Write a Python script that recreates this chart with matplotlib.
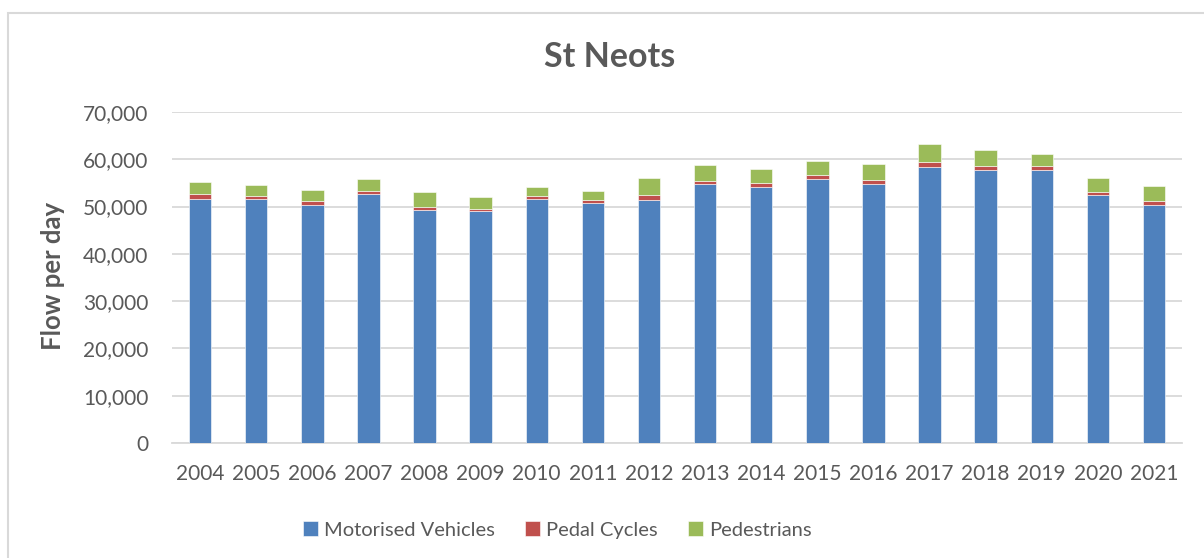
import matplotlib
matplotlib.use("Agg")
import matplotlib.pyplot as plt
import matplotlib.patches as patches
import numpy as np
from matplotlib.ticker import FuncFormatter

plt.rcParams['font.family'] = ['Lato', 'DejaVu Sans']

# Datos
years = ['2004', '2005', '2006', '2007', '2008', '2009', '2010', '2011', '2012',
         '2013', '2014', '2015', '2016', '2017', '2018', '2019', '2020', '2021']
motorised = [51600, 51600, 50400, 52700, 49300, 49000, 51700, 50700, 51400,
             54800, 54100, 55900, 54800, 58300, 57800, 57800, 52400, 50400]
pedal = [1000, 700, 850, 570, 560, 560, 560, 700, 1000,
         570, 850, 780, 780, 1060, 780, 700, 760, 850]
pedestrians = [2600, 2250, 2300, 2530, 3180, 2470, 1830, 1970, 3600,
               3380, 2960, 3020, 3380, 3800, 3380, 2600, 2960, 3100]

text_color = '#595959'
grid_color = '#D9D9D9'

fig = plt.figure(figsize=(12.04, 5.58), dpi=100)
ax = fig.add_axes([172 / 1204, 1 - 443 / 558, (1182 - 172) / 1204, (443 - 112) / 558])

x = np.arange(len(years))
ancho = 0.4
mv = np.array(motorised)
pc = np.array(pedal)
pe = np.array(pedestrians)

ax.bar(x, mv, ancho, color='#4F81BD', label='Motorised Vehicles', zorder=3,
       edgecolor='white', linewidth=0.4)
ax.bar(x, pc, ancho, bottom=mv, color='#C0504D', label='Pedal Cycles', zorder=3,
       edgecolor='white', linewidth=0.4)
ax.bar(x, pe, ancho, bottom=mv + pc, color='#9BBB59', label='Pedestrians', zorder=3,
       edgecolor='white', linewidth=0.4)

# Ejes y rejilla
ax.set_xlim(-0.5, len(years) - 0.5)
ax.set_ylim(0, 70000)
ax.set_yticks(range(0, 70001, 10000))
ax.yaxis.set_major_formatter(FuncFormatter(lambda v, p: f'{int(v):,}'))
ax.set_xticks(x)
ax.set_xticklabels(years)
ax.grid(axis='y', color=grid_color, linewidth=1.3, zorder=0)
for lado in ['top', 'right', 'left']:
    ax.spines[lado].set_visible(False)
ax.spines['bottom'].set_color(grid_color)
ax.spines['bottom'].set_linewidth(1.3)
ax.tick_params(axis='y', length=0, pad=17, labelsize=15, labelcolor=text_color)
ax.tick_params(axis='x', length=0, pad=15, labelsize=15, labelcolor=text_color)

# Titulo y etiqueta del eje
fig.text(610 / 1204, 1 - 57 / 558, 'St Neots', ha='center', va='center',
         fontsize=24.5, fontweight='bold', color=text_color)
fig.text(53 / 1204, 1 - 276 / 558, 'Flow per day', ha='center', va='center',
         rotation=90, fontsize=18.5, fontweight='bold', color=text_color)

# Leyenda
leg = fig.legend(loc='center', bbox_to_anchor=(557 / 1204, 1 - 530 / 558), ncol=3,
                 frameon=False, fontsize=14.5, handlelength=0.75, handleheight=0.75,
                 handletextpad=0.3, columnspacing=1.5)
for t in leg.get_texts():
    t.set_color(text_color)

# Borde del area del grafico
borde = patches.Rectangle((8 / 1204, -0.1), 1.2, 1.1 - 13 / 558, transform=fig.transFigure,
                          fill=False, edgecolor=grid_color, linewidth=1.5)
fig.patches.append(borde)

fig.savefig('out.png', dpi=100)
plt.close()
